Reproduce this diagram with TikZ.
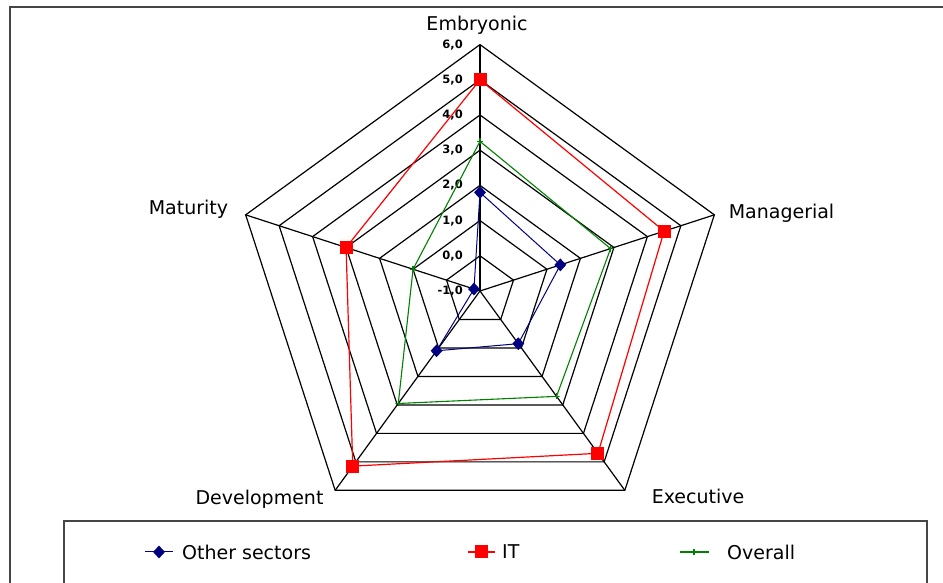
\documentclass[tikz,border=0pt]{standalone}
\usepackage{fontspec}
\setmainfont{DejaVu Sans}
\usetikzlibrary{shapes.geometric}
\definecolor{navy}{RGB}{0,0,128}
\definecolor{dgreen}{RGB}{0,128,0}
\definecolor{framegray}{RGB}{70,70,70}
\tikzset{
  gridline/.style={black, line width=1.2pt, line join=miter},
  framebox/.style={framegray, line width=1.8pt},
  axlab/.style={font=\fontsize{19}{21}\selectfont, text=black, anchor=base, inner sep=0pt},
  vallab/.style={font=\fontsize{11.5}{12}\selectfont\bfseries, anchor=east, inner sep=0pt},
  leglab/.style={font=\fontsize{19}{21}\selectfont, text=black, anchor=west, inner sep=0pt},
  lineO/.style={navy, line width=1pt},
  lineI/.style={red, line width=1.2pt},
  lineG/.style={dgreen, line width=1.1pt},
  markO/.style={diamond, fill=navy, inner sep=0pt, minimum width=12pt, minimum height=13pt},
  markI/.style={rectangle, fill=red, inner sep=0pt, minimum size=13pt},
  markG/.style={rectangle, inner sep=0pt, minimum size=6pt,
    path picture={\draw[dgreen, line width=1.4pt]
      (path picture bounding box.west) -- (path picture bounding box.east)
      (path picture bounding box.north) -- (path picture bounding box.south);}},
}
\begin{document}
\begin{tikzpicture}[x=1pt,y=1pt]
\useasboundingbox (0,0) rectangle (943,583);
% outer frame
\draw[framebox] (10,0) -- (10,576) -- (943,576);
% legend frame
\draw[framebox] (64,0) -- (64,62) -- (927,62) -- (927,0);

\def\u{35.2}
\coordinate (C) at (480,292);

% rings
\foreach \v in {0,...,6} {
  \pgfmathsetmacro\r{(\v+1)*\u}
  \draw[gridline] ([shift={(90:\r)}]C) -- ([shift={(18:\r)}]C) -- ([shift={(-54:\r)}]C)
     -- ([shift={(-126:\r)}]C) -- ([shift={(162:\r)}]C) -- cycle;
}
% spokes
\foreach \a/\n in {90/E,18/M,-54/X,-126/D,162/T} {
  \coordinate (tip\n) at ([shift={(\a:{7*\u})}]C);
  \draw[gridline] (C) -- (tip\n);
}

% value labels
\foreach \v/\t in {6/{6,0},5/{5,0},4/{4,0},3/{3,0},2/{2,0},1/{1,0},0/{0,0},-1/{-1,0}} {
  \node[vallab] (val\v) at (463,{292+(\v+1)*\u}) {\t};
}

% axis labels
\node[axlab] (labE) at (477,552) {Embryonic};
\node[axlab] (labM) at (781.5,364) {Managerial};
\node[axlab] (labX) at (698,79) {Executive};
\node[axlab] (labD) at (259.5,78) {Development};
\node[axlab] (labT) at (188.5,368) {Maturity};

% data coordinates
\foreach \s/\e/\m/\x/\d/\t in {O/1.8/1.4/0.85/1.1/-0.82, I/5.0/4.5/4.7/5.15/3.0, G/3.25/2.9/2.7/2.95/1.0} {
  \coordinate (\s E) at ([shift={(90:{(\e+1)*\u})}]C);
  \coordinate (\s M) at ([shift={(18:{(\m+1)*\u})}]C);
  \coordinate (\s X) at ([shift={(-54:{(\x+1)*\u})}]C);
  \coordinate (\s D) at ([shift={(-126:{(\d+1)*\u})}]C);
  \coordinate (\s T) at ([shift={(162:{(\t+1)*\u})}]C);
}

% series lines
\draw[lineG] (GE) -- (GM) -- (GX) -- (GD) -- (GT) -- cycle;
\draw[lineI] (IE) -- (IM) -- (IX) -- (ID) -- (IT) -- cycle;
\draw[lineO] (OE) -- (OM) -- (OX) -- (OD) -- (OT) -- cycle;

% markers
\foreach \p in {E,M,X,D,T} {
  \node[markG] (mG\p) at (G\p) {};
  \node[markI] (mI\p) at (I\p) {};
  \node[markO] (mO\p) at (O\p) {};
}

% legend
\coordinate (l1a) at (145,31); \coordinate (l1b) at (173,31);
\draw[lineO] (l1a) -- (l1b);
\node[markO] (lm1) at (159,31) {};
\node[leglab] (lt1) at (182,31) {Other sectors};

\coordinate (l2a) at (468,31); \coordinate (l2b) at (495,31);
\draw[lineI] (l2a) -- (l2b);
\node[markI] (lm2) at (481,31) {};
\node[leglab] (lt2) at (502,31) {IT};

\coordinate (l3a) at (680,31); \coordinate (l3b) at (709,31);
\draw[lineG] (l3a) -- (l3b);
\node[markG] (lm3) at (694,31) {};
\node[leglab] (lt3) at (727,31) {Overall};
\end{tikzpicture}
\end{document}
